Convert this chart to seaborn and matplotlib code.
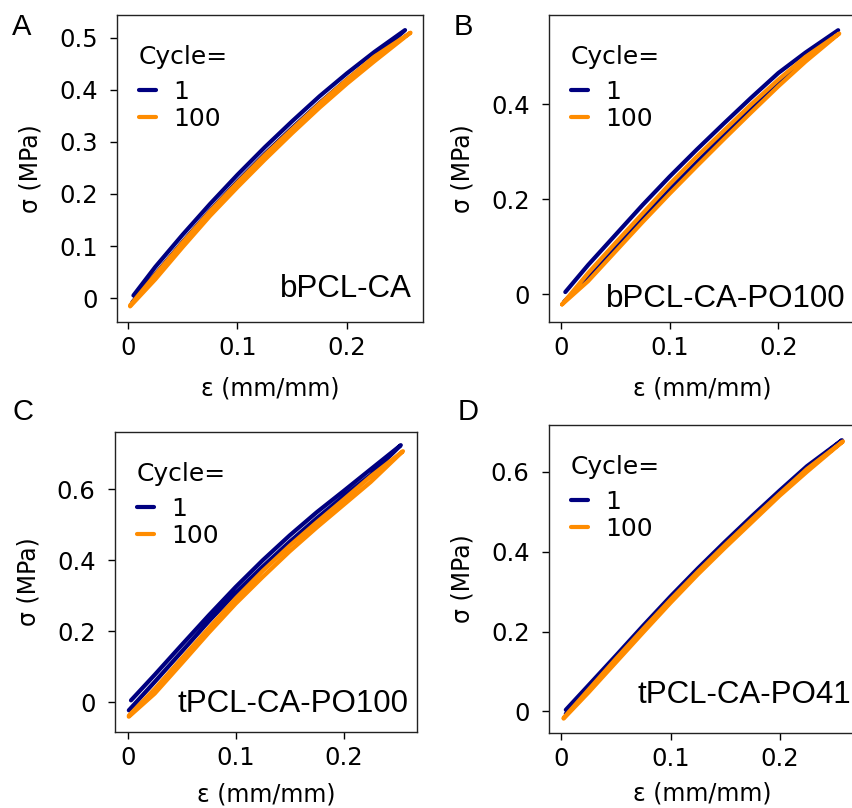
import numpy as np
import pandas as pd
import matplotlib
matplotlib.use("Agg")
import matplotlib.pyplot as plt
import seaborn as sns
from matplotlib.ticker import MultipleLocator, FormatStrFormatter

# Strain (mm/mm) / stress (MPa) read off each hysteresis loop:
# loading branch up to the peak, then the unloading branch back down.
a_c1_strain = [0.005, 0.025, 0.05, 0.075, 0.1, 0.125, 0.15, 0.175, 0.2, 0.225, 0.253,
               0.225, 0.2, 0.175, 0.15, 0.125, 0.1, 0.075, 0.05, 0.025, 0.004]
a_c1_stress = [0.005, 0.060, 0.122, 0.181, 0.237, 0.290, 0.340, 0.388, 0.432, 0.473, 0.515,
               0.462, 0.420, 0.375, 0.327, 0.277, 0.224, 0.168, 0.108, 0.046, -0.008]
a_c100_strain = [0.002, 0.025, 0.05, 0.075, 0.1, 0.125, 0.15, 0.175, 0.2, 0.225, 0.258,
                 0.225, 0.2, 0.175, 0.15, 0.125, 0.1, 0.075, 0.05, 0.025, 0.002]
a_c100_stress = [-0.014, 0.045, 0.107, 0.167, 0.222, 0.275, 0.325, 0.374, 0.420, 0.464, 0.510,
                 0.455, 0.412, 0.366, 0.317, 0.266, 0.213, 0.158, 0.098, 0.036, -0.016]

b_c1_strain = [0.004, 0.025, 0.05, 0.075, 0.1, 0.125, 0.15, 0.175, 0.2, 0.225, 0.255,
               0.225, 0.2, 0.175, 0.15, 0.125, 0.1, 0.075, 0.05, 0.025, 0.003]
b_c1_stress = [0.005, 0.062, 0.125, 0.188, 0.248, 0.305, 0.360, 0.414, 0.466, 0.509, 0.556,
               0.495, 0.445, 0.390, 0.335, 0.278, 0.220, 0.160, 0.098, 0.035, -0.015]
b_c100_strain = [0.001, 0.025, 0.05, 0.075, 0.1, 0.125, 0.15, 0.175, 0.2, 0.225, 0.256,
                 0.225, 0.2, 0.175, 0.15, 0.125, 0.1, 0.075, 0.05, 0.025, 0.001]
b_c100_stress = [-0.021, 0.045, 0.108, 0.170, 0.232, 0.290, 0.345, 0.400, 0.452, 0.500, 0.549,
                 0.490, 0.438, 0.383, 0.327, 0.270, 0.212, 0.152, 0.090, 0.028, -0.021]

c_c1_strain = [0.003, 0.025, 0.05, 0.075, 0.1, 0.125, 0.15, 0.175, 0.2, 0.225, 0.253,
               0.225, 0.2, 0.175, 0.15, 0.125, 0.1, 0.075, 0.05, 0.025, 0.001]
c_c1_stress = [0.006, 0.078, 0.162, 0.245, 0.325, 0.400, 0.470, 0.535, 0.595, 0.656, 0.724,
               0.640, 0.580, 0.518, 0.452, 0.382, 0.308, 0.228, 0.143, 0.058, -0.022]
c_c100_strain = [0.001, 0.025, 0.05, 0.075, 0.1, 0.125, 0.15, 0.175, 0.2, 0.225, 0.255,
                 0.225, 0.2, 0.175, 0.15, 0.125, 0.1, 0.075, 0.05, 0.025, 0.001]
c_c100_stress = [-0.037, 0.038, 0.124, 0.209, 0.293, 0.370, 0.441, 0.507, 0.571, 0.636, 0.707,
                 0.620, 0.556, 0.492, 0.425, 0.353, 0.278, 0.196, 0.110, 0.025, -0.040]

d_c1_strain = [0.004, 0.025, 0.05, 0.075, 0.1, 0.125, 0.15, 0.175, 0.2, 0.225, 0.257,
               0.225, 0.2, 0.175, 0.15, 0.125, 0.1, 0.075, 0.05, 0.025, 0.004]
d_c1_stress = [0.004, 0.066, 0.140, 0.215, 0.288, 0.358, 0.425, 0.490, 0.553, 0.614, 0.679,
               0.607, 0.547, 0.482, 0.417, 0.350, 0.280, 0.206, 0.131, 0.056, -0.006]
d_c100_strain = [0.002, 0.025, 0.05, 0.075, 0.1, 0.125, 0.15, 0.175, 0.2, 0.225, 0.258,
                 0.225, 0.2, 0.175, 0.15, 0.125, 0.1, 0.075, 0.05, 0.025, 0.002]
d_c100_stress = [-0.016, 0.055, 0.132, 0.207, 0.280, 0.350, 0.417, 0.482, 0.545, 0.607, 0.676,
                 0.600, 0.540, 0.475, 0.410, 0.343, 0.272, 0.198, 0.123, 0.048, -0.018]

cycles = ["1", "100"]
panel_letters = ["A", "B", "C", "D"]
sample_names = ["bPCL-CA", "bPCL-CA-PO100", "tPCL-CA-PO100", "tPCL-CA-PO41"]

sns.set_style("ticks")
plt.rcParams["font.family"] = ["DejaVu Sans"]
plt.rcParams["text.color"] = "black"
plt.rcParams["axes.labelcolor"] = "black"

fig = plt.figure(figsize=(8.52, 8.08), dpi=100)
W, H = 852, 808

# layout per panel: axes box in pixels (left, top, right, bottom), limits, y step,
# sample label position (axes fraction), panel letter position (pixels), x label pad
panels = [
    dict(box=(117, 15, 423, 322), xlim=(-0.010, 0.2694), ylim=(-0.046, 0.544), ystep=0.1,
         data=(a_c1_strain, a_c1_stress, a_c100_strain, a_c100_stress),
         txt=(0.533, 0.081), letter=(12, 35), xpad=12),
    dict(box=(549, 15, 855, 322), xlim=(-0.011, 0.2705), ylim=(-0.058, 0.588), ystep=0.2,
         data=(b_c1_strain, b_c1_stress, b_c100_strain, b_c100_stress),
         txt=(0.186, 0.049), letter=(454, 35), xpad=12),
    dict(box=(115, 432, 417, 732), xlim=(-0.0118, 0.268), ylim=(-0.083, 0.761), ystep=0.2,
         data=(c_c1_strain, c_c1_stress, c_c100_strain, c_c100_stress),
         txt=(0.208, 0.067), letter=(13, 420), xpad=9),
    dict(box=(549, 425, 855, 733), xlim=(-0.0114, 0.269), ylim=(-0.054, 0.717), ystep=0.2,
         data=(d_c1_strain, d_c1_stress, d_c100_strain, d_c100_stress),
         txt=(0.290, 0.097), letter=(458, 420), xpad=8),
]

palette = {"1": "navy", "100": "darkorange"}

for i, p in enumerate(panels):
    l, t, r, b = p["box"]
    axw, axh = r - l, b - t
    ax = fig.add_axes([l / W, 1 - b / H, axw / W, axh / H])

    s1, y1, s100, y100 = p["data"]
    df = pd.concat([
        pd.DataFrame({"strain": s1, "stress": y1, "Cycle": "1"}),
        pd.DataFrame({"strain": s100, "stress": y100, "Cycle": "100"}),
    ], ignore_index=True)

    sns.lineplot(data=df, x="strain", y="stress", hue="Cycle", hue_order=cycles,
                 palette=palette, sort=False, estimator=None, linewidth=3,
                 solid_capstyle="round", solid_joinstyle="round", ax=ax)

    handles, labels = ax.get_legend_handles_labels()
    leg = ax.legend(handles, labels, title="Cycle=", loc="upper left", frameon=False,
                    bbox_to_anchor=(12 / axw, 1 - 20 / axh), borderaxespad=0,
                    fontsize=18, title_fontsize=18, handlelength=0.68,
                    handletextpad=0.7, labelspacing=0.1, alignment="left")
    leg._legend_box.sep = 8  # a little more room under the title
    for h in leg.legend_handles:
        h.set_linewidth(3)

    ax.set_xlim(*p["xlim"])
    ax.set_ylim(*p["ylim"])
    ax.xaxis.set_major_locator(MultipleLocator(0.1))
    ax.yaxis.set_major_locator(MultipleLocator(p["ystep"]))
    ax.xaxis.set_major_formatter(FormatStrFormatter("%g"))
    ax.yaxis.set_major_formatter(FormatStrFormatter("%g"))
    ax.tick_params(labelsize=17.5, length=5, width=1, colors="black", direction="out")
    ax.tick_params(axis="y", pad=9)
    ax.tick_params(axis="x", pad=5)
    ax.set_xlabel("ε (mm/mm)", fontsize=17, labelpad=p["xpad"])
    ax.set_ylabel("σ (MPa)", fontsize=17, labelpad=12)
    for sp in ax.spines.values():
        sp.set_visible(True)
        sp.set_color("#222222")
        sp.set_linewidth(1)

    ax.text(p["txt"][0], p["txt"][1], sample_names[i], transform=ax.transAxes,
            ha="left", va="baseline", fontsize=22.5, family="Liberation Sans")
    fig.text(p["letter"][0] / W, 1 - p["letter"][1] / H, panel_letters[i],
             ha="left", va="baseline", fontsize=21, family="Liberation Sans")

fig.savefig("out.png", dpi=100)
